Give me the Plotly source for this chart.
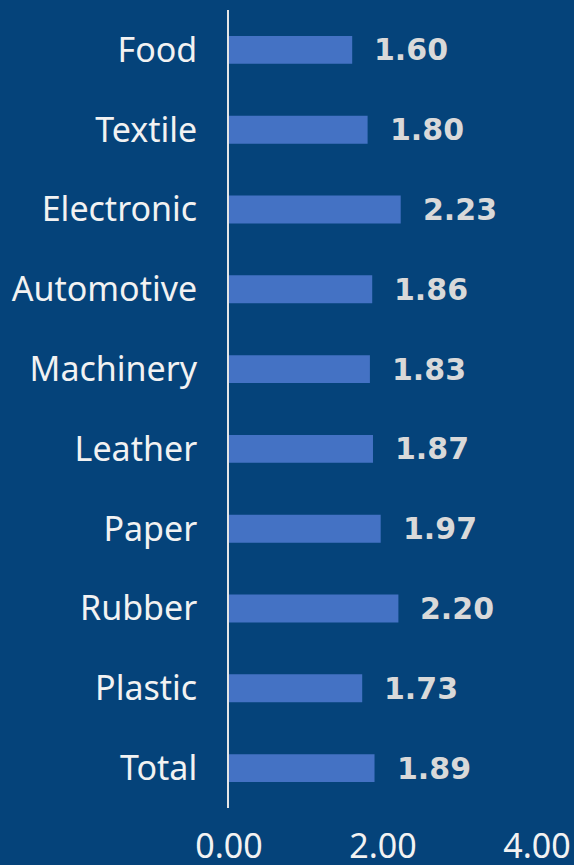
import plotly.graph_objects as go

categories = ["Food", "Textile", "Electronic", "Automotive", "Machinery",
              "Leather", "Paper", "Rubber", "Plastic", "Total"]
values = [1.60, 1.80, 2.23, 1.86, 1.83, 1.87, 1.97, 2.20, 1.73, 1.89]
tick_vals = [0, 2, 4]
tick_text = ["0.00", "2.00", "4.00"]

BG = "#05437A"
FONT = "Noto Sans"

fig = go.Figure()
fig.add_trace(go.Bar(
    x=values, y=categories, orientation="h",
    marker=dict(color="#4472C4", line=dict(width=0)),
    width=0.35,
    hoverinfo="skip",
))

for c, v in zip(categories, values):
    fig.add_annotation(
        x=v, y=c, text=f"<b>{v:.2f}</b>", showarrow=False,
        xanchor="left", yanchor="middle", xshift=20,
        font=dict(family="DejaVu Sans", size=30, color="#D9D9D9"),
    )

fig.update_layout(
    width=574, height=865,
    paper_bgcolor=BG, plot_bgcolor=BG,
    margin=dict(l=229, r=37, t=10, b=57),
    showlegend=False,
    font=dict(family=FONT, size=34, color="#F2F2F2"),
    xaxis=dict(
        range=[0, 4], tickvals=tick_vals, ticktext=tick_text,
        showgrid=False, zeroline=False, showline=False, ticks="",
        ticklabelstandoff=15, automargin=False,
        tickfont=dict(family=FONT, size=34, color="#F2F2F2"),
        fixedrange=True,
    ),
    yaxis=dict(
        autorange="reversed",
        showgrid=False, zeroline=False,
        showline=True, linecolor="#E6E6E6", linewidth=2,
        ticks="", ticklabelstandoff=23, automargin=False,
        tickfont=dict(family=FONT, size=34, color="#F2F2F2"),
        fixedrange=True,
    ),
)

fig.write_html(
    "out.html",
    config={"displayModeBar": False},
    post_script="document.body.style.margin='0';document.body.style.background='" + BG + "';document.body.style.overflow='hidden';",
)
